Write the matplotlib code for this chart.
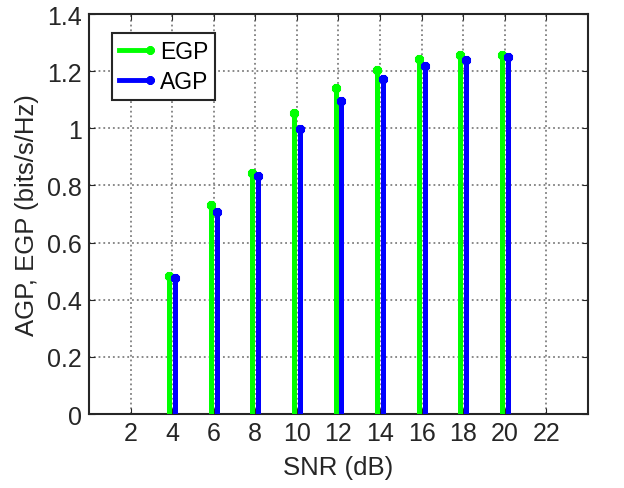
import matplotlib
matplotlib.use('Agg')
import matplotlib.pyplot as plt
import numpy as np
from matplotlib.lines import Line2D
from matplotlib.legend_handler import HandlerBase

plt.rcParams['font.family'] = ['Liberation Sans', 'DejaVu Sans']

snr = [4, 6, 8, 10, 12, 14, 16, 18, 20]
egp = [0.483, 0.730, 0.843, 1.055, 1.141, 1.205, 1.243, 1.255, 1.258]
agp = [0.476, 0.708, 0.832, 0.996, 1.097, 1.172, 1.219, 1.239, 1.248]
xticks = [2, 4, 6, 8, 10, 12, 14, 16, 18, 20, 22]
yticks = [0, 0.2, 0.4, 0.6, 0.8, 1, 1.2, 1.4]
ytick_labels = ['0', '0.2', '0.4', '0.6', '0.8', '1', '1.2', '1.4']

green = '#00ff00'
blue = '#0000ff'
mk = (8, 2, 0)


class StemHandler(HandlerBase):
    def create_artists(self, legend, orig_handle, xdescent, ydescent,
                       width, height, fontsize, trans):
        y = height / 2 - ydescent
        c = orig_handle.get_color()
        ln = Line2D([-xdescent, width - xdescent], [y, y], color=c, lw=3.5,
                    transform=trans)
        m = Line2D([width - xdescent], [y], color=c, marker=mk, ms=6,
                   mew=2.2, transform=trans)
        return [ln, m]


fig = plt.figure(figsize=(6.24, 4.89), dpi=100)
ax = fig.add_axes([0.1426, 0.1513, 0.7997, 0.8180])

off = 0.14
x1 = np.array(snr) - off
x2 = np.array(snr) + off
ax.vlines(x1, 0, egp, color=green, lw=3.6, zorder=3)
ax.plot(x1, egp, ls='none', marker=mk, ms=6.5, mew=2.2, color=green, zorder=4)
ax.vlines(x2, 0, agp, color=blue, lw=3.6, zorder=3)
ax.plot(x2, agp, ls='none', marker=mk, ms=6.5, mew=2.2, color=blue, zorder=4)

ax.set_xlim(0, 24)
ax.set_ylim(0, 1.4)
ax.set_xticks(xticks)
ax.set_yticks(yticks)
ax.set_yticklabels(ytick_labels)
ax.grid(True, ls=':', color='#808080', lw=1.3)
ax.set_axisbelow(True)
ax.tick_params(direction='in', length=4, labelsize=18, colors='#262626',
               top=True, right=True, pad=5)
for s in ax.spines.values():
    s.set_linewidth(1.5)
    s.set_color('#262626')

ax.set_xlabel('SNR (dB)', fontsize=18.5, color='#262626', labelpad=7)
ax.set_ylabel('AGP, EGP (bits/s/Hz)', fontsize=18.5, color='#262626', labelpad=6)

h1 = Line2D([], [], color=green)
h2 = Line2D([], [], color=blue)
leg = ax.legend([h1, h2], ['EGP', 'AGP'], handler_map={Line2D: StemHandler()},
                loc='upper left', bbox_to_anchor=(0.046, 0.9525),
                borderaxespad=0, fontsize=16.5,
                fancybox=False, edgecolor='#262626', framealpha=1,
                handlelength=1.35, handletextpad=0.45, borderpad=0.3,
                labelspacing=0.3)
leg.get_frame().set_linewidth(1.5)

fig.savefig('out.png', dpi=100)
